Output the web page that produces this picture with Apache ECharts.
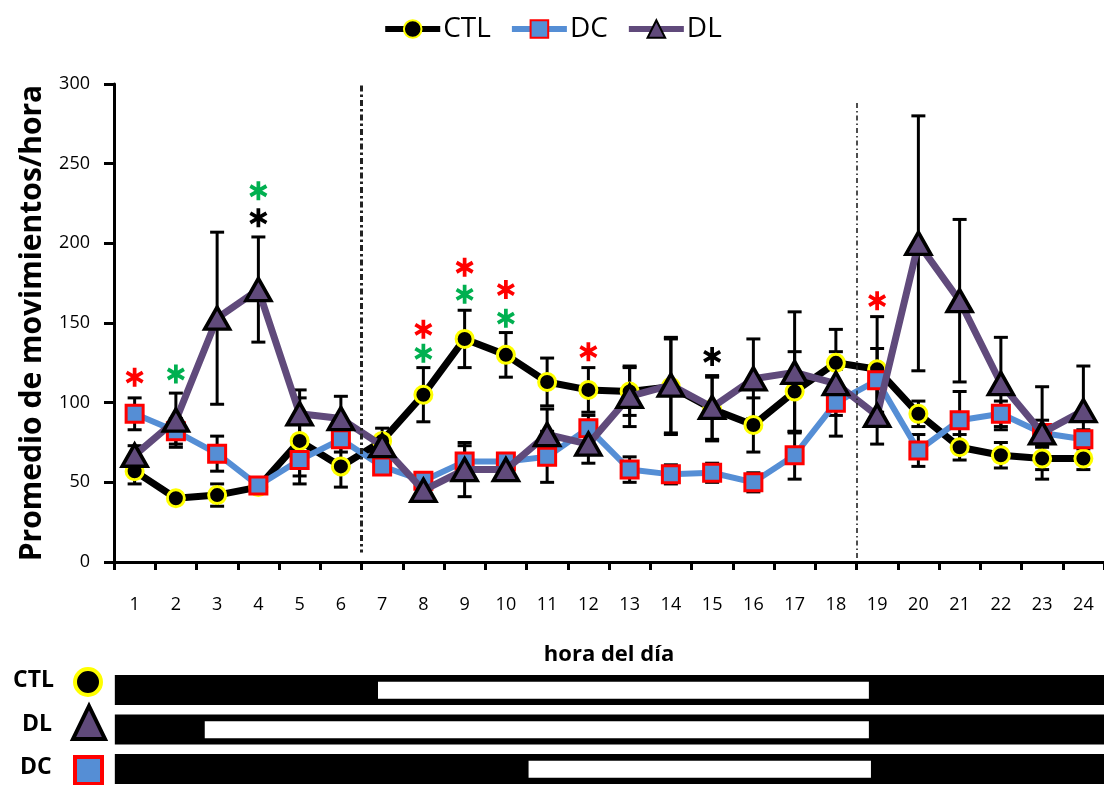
<!DOCTYPE html>
<html>
<head>
<meta charset="utf-8">
<script src="https://cdn.jsdelivr.net/npm/echarts@6/dist/echarts.min.js"></script>
<style>html,body{margin:0;padding:0;background:#fff;}#c{width:1104px;height:785px;}</style>
</head>
<body>
<div id="c"></div>
<script>
// ---------- data ----------
var hours = ['1','2','3','4','5','6','7','8','9','10','11','12','13','14','15','16','17','18','19','20','21','22','23','24'];
var ctlMean = [57, 40, 42, 47, 76, 60, 76, 105, 140, 130, 113, 108, 107, 110, 96, 86, 107, 125, 121, 93, 72, 67, 65, 65];
var ctlErr  = [8, 3, 7, 4, 27, 13, 8, 17, 18, 14, 15, 14, 15, 30, 20, 17, 25, 21, 33, 8, 8, 8, 7, 7];
var dcMean  = [93, 82, 68, 48, 64, 77, 60, 51, 63, 63, 66, 84, 58, 55, 56, 50, 67, 100, 114, 70, 89, 93, 81, 77];
var dcErr   = [10, 8, 11, 3, 10, 8, 5, 3, 10, 5, 16, 8, 8, 6, 6, 6, 15, 21, 20, 10, 18, 8, 8, 6];
var dlMean  = [67, 89, 153, 171, 93, 90, 73, 45, 58, 58, 80, 74, 104, 111, 97, 115, 119, 112, 92, 200, 164, 112, 81, 95];
var dlErr   = [6, 17, 54, 33, 15, 14, 5, 3, 17, 5, 16, 12, 19, 30, 20, 25, 38, 20, 18, 80, 51, 29, 29, 28];
var yTicks = [0, 50, 100, 150, 200, 250, 300];
// significance asterisks [hour, height]
var redStars   = [[1,116],[8,146],[9,185],[10,171],[12,132],[19,164]];
var greenStars = [[2,118],[4,233],[8,131],[9,168],[10,153]];
var blackStars = [[4,216],[15,129]];
// vertical separators [hour position, top value, bottom value]
var dividers = [[6.5, 299, 6], [18.5, 288, 1]];
// light/dark schedule bars
var scheduleGroups = ['CTL', 'DL', 'DC'];
var darkFrom = [0.52, 0.52, 0.52];
var darkTo   = [24.5, 24.5, 24.5];
var lightOn  = [6.9, 2.7, 10.55];
var lightOff = [18.8, 18.8, 18.85];

// ---------- helpers ----------
var FONT = 'Open Sans';
var ASTER = 'path://M12,0L12,20L8,20L8,0Z M19.66,13.268L17.66,16.732L0.34,6.732L2.34,3.268Z M19.66,6.732L2.34,16.732L0.34,13.268L17.66,3.268Z';

function errData(mean, err){
  return mean.map(function(m,i){ return [i, m - err[i], m + err[i]]; });
}
function errItem(params, api){
  var x = api.value(0), lo = api.value(1), hi = api.value(2);
  var p1 = api.coord([x, hi]), p2 = api.coord([x, lo]);
  var hw = 7;
  var st = {stroke:'#000', lineWidth:3};
  return {type:'group', children:[
    {type:'line', shape:{x1:p1[0],y1:p1[1],x2:p2[0],y2:p2[1]}, style:st},
    {type:'line', shape:{x1:p1[0]-hw,y1:p1[1],x2:p1[0]+hw,y2:p1[1]}, style:st},
    {type:'line', shape:{x1:p2[0]-hw,y1:p2[1],x2:p2[0]+hw,y2:p2[1]}, style:st}
  ]};
}
function errSeries(mean, err){
  return {type:'custom', xAxisIndex:0, yAxisIndex:0, renderItem:errItem,
    encode:{x:0, y:[1,2]}, data:errData(mean, err), z:1, silent:true};
}
function starSeries(data, color){
  return {type:'scatter', xAxisIndex:1, yAxisIndex:0, data:data, symbol:ASTER,
    symbolSize:[18,19], itemStyle:{color:color, opacity:1}, z:6, silent:true};
}
var scheduleData = scheduleGroups.map(function(g,i){ return [i, darkFrom[i], darkTo[i], lightOn[i], lightOff[i]]; });
function scheduleItem(params, api){
  var row = api.value(0);
  var a = api.coord([api.value(1), row]);
  var b = api.coord([api.value(2), row + 0.76]);
  var c = api.coord([api.value(3), row + 0.17]);
  var d = api.coord([api.value(4), row + 0.6]);
  return {type:'group', children:[
    {type:'rect', shape:{x:a[0], y:a[1], width:b[0]-a[0], height:b[1]-a[1]}, style:{fill:'#000'}},
    {type:'rect', shape:{x:c[0], y:c[1], width:d[0]-c[0], height:d[1]-c[1]}, style:{fill:'#fff'}}
  ]};
}

var chart = echarts.init(document.getElementById('c'), null, {renderer:'canvas'});
var option = {
  animation:false,
  backgroundColor:'#fff',
  legend:{
    data:['CTL','DC','DL'], top:10, left:'center', itemWidth:55, itemHeight:22, itemGap:18,
    lineStyle:{width:6},
    textStyle:{fontFamily:FONT, fontSize:28, color:'#000', padding:[0,0,0,-2]}
  },
  grid:[
    {left:114, right:0, top:84, bottom:223, outerBoundsMode:'none'},
    {left:114, right:0, top:675, height:118.5, outerBoundsMode:'none'}
  ],
  xAxis:[
    {type:'category', gridIndex:0, data:hours, boundaryGap:true,
      axisLine:{lineStyle:{color:'#000', width:3}},
      axisTick:{show:true, length:8, lineStyle:{color:'#000', width:3}},
      axisLabel:{fontFamily:FONT, fontSize:18, color:'#000', margin:34},
      name:'hora del día', nameLocation:'middle', nameGap:82,
      nameTextStyle:{fontFamily:FONT, fontWeight:'bold', fontSize:22, color:'#000'},
      splitLine:{show:false}},
    {type:'value', gridIndex:0, min:0.5, max:24.5, show:false},
    {type:'value', gridIndex:1, min:0.5, max:24.5, show:false}
  ],
  yAxis:[
    {type:'value', gridIndex:0, min:0, max:300, interval:50,
      axisLine:{show:true, lineStyle:{color:'#000', width:3}},
      axisTick:{show:true, length:10, lineStyle:{color:'#000', width:3}},
      axisLabel:{fontFamily:FONT, fontSize:18, color:'#000', margin:24,
        formatter:function(v){ return yTicks.indexOf(v) >= 0 ? String(v) : ''; }},
      splitLine:{show:false},
      name:'Promedio de movimientos/hora', nameLocation:'middle', nameGap:67, nameRotate:90,
      nameTextStyle:{fontFamily:FONT, fontWeight:'bold', fontSize:30, color:'#000'}},
    {type:'value', gridIndex:1, min:0, max:3, interval:1, inverse:true, show:false}
  ],
  graphic:[
    {type:'text', left:13, top:669, style:{text:'CTL', fontFamily:FONT, fontWeight:'bold', fontSize:23, fill:'#000'}},
    {type:'text', left:22, top:713, style:{text:'DL', fontFamily:FONT, fontWeight:'bold', fontSize:23, fill:'#000'}},
    {type:'text', left:20, top:756, style:{text:'DC', fontFamily:FONT, fontWeight:'bold', fontSize:23, fill:'#000'}},
    {type:'circle', shape:{cx:88, cy:682, r:13}, style:{fill:'#000', stroke:'#FFFF00', lineWidth:4}},
    {type:'polygon', shape:{points:[[89,706],[73,739],[105,739]]}, style:{fill:'#604A7B', stroke:'#000', lineWidth:4}},
    {type:'rect', shape:{x:75, y:757, width:27, height:27}, style:{fill:'#558ED5', stroke:'#FF0000', lineWidth:4}}
  ],
  series:[
    errSeries(ctlMean, ctlErr),
    errSeries(dcMean, dcErr),
    errSeries(dlMean, dlErr),
    {name:'CTL', type:'line', xAxisIndex:0, yAxisIndex:0, data:ctlMean, z:2,
      symbol:'circle', symbolSize:17,
      lineStyle:{color:'#000', width:7},
      itemStyle:{color:'#000', borderColor:'#FFFF00', borderWidth:3}},
    {name:'DC', type:'line', xAxisIndex:0, yAxisIndex:0, data:dcMean, z:3,
      symbol:'rect', symbolSize:17,
      lineStyle:{color:'#558ED5', width:6},
      itemStyle:{color:'#558ED5', borderColor:'#FF0000', borderWidth:3}},
    {name:'DL', type:'line', xAxisIndex:0, yAxisIndex:0, data:dlMean, z:4,
      symbol:'triangle', symbolSize:[25,22],
      lineStyle:{color:'#604A7B', width:7},
      itemStyle:{color:'#604A7B', borderColor:'#000', borderWidth:3.5}},
    starSeries(redStars, '#FF0000'),
    starSeries(greenStars, '#00B050'),
    starSeries(blackStars, '#000'),
    {type:'line', xAxisIndex:1, yAxisIndex:0, data:[], silent:true, z:1,
      markLine:{silent:true, symbol:['none','none'], label:{show:false},
        data:dividers.map(function(d,i){
          return [{coord:[d[0], d[1]], lineStyle:{color:'#222', width:i===0?3:1.6, type:i===0?[6,3,2.5,3]:[5,3,1.5,3]}},
                  {coord:[d[0], d[2]]}];
        })}},
    {type:'custom', xAxisIndex:2, yAxisIndex:1, renderItem:scheduleItem,
      encode:{x:[1,2,3,4], y:0}, data:scheduleData, silent:true}
  ]
};
chart.setOption(option);
</script>
</body>
</html>
